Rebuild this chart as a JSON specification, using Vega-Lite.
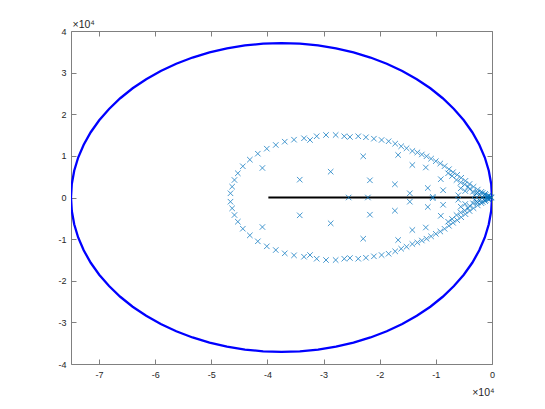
{
  "$schema": "https://vega.github.io/schema/vega-lite/v6.json",
  "width": 421,
  "height": 333,
  "autosize": {"type": "none"},
  "padding": {"left": 71, "top": 31, "right": 53, "bottom": 45},
  "background": "white",
  "config": {
    "view": {"stroke": null},
    "axis": {
      "labelFont": "Liberation Sans",
      "labelFontSize": 9,
      "labelColor": "#262626",
      "titleFont": "Liberation Sans",
      "titleColor": "#262626",
      "titleFontWeight": "normal",
      "titleFontSize": 10.5,
      "domainColor": "#808080",
      "tickColor": "#808080",
      "domainWidth": 1,
      "tickWidth": 1,
      "grid": false,
      "tickSize": -5
    }
  },
  "datasets": {
    "ellipse": [
      {"i":0,"x":0,"y":0},{"i":1,"x":-143,"y":3234},{"i":2,"x":-570,"y":6442},{"i":3,"x":-1278,"y":9602},{"i":4,"x":-2262,"y":12689},{"i":5,"x":-3513,"y":15679},{"i":6,"x":-5024,"y":18550},{"i":7,"x":-6782,"y":21280},{"i":8,"x":-8774,"y":23848},{"i":9,"x":-10983,"y":26234},{"i":10,"x":-13395,"y":28420},{"i":11,"x":-15991,"y":30391},{"i":12,"x":-18750,"y":32130},{"i":13,"x":-21652,"y":33624},{"i":14,"x":-24674,"y":34863},{"i":15,"x":-27794,"y":35836},{"i":16,"x":-30988,"y":36536},{"i":17,"x":-34232,"y":36959},{"i":18,"x":-37500,"y":37100},
      {"i":19,"x":-40768,"y":36959},{"i":20,"x":-44012,"y":36536},{"i":21,"x":-47206,"y":35836},{"i":22,"x":-50326,"y":34863},{"i":23,"x":-53348,"y":33624},{"i":24,"x":-56250,"y":32130},{"i":25,"x":-59010,"y":30391},{"i":26,"x":-61605,"y":28420},{"i":27,"x":-64017,"y":26234},{"i":28,"x":-66227,"y":23848},{"i":29,"x":-68218,"y":21280},{"i":30,"x":-69976,"y":18550},{"i":31,"x":-71487,"y":15679},{"i":32,"x":-72738,"y":12689},{"i":33,"x":-73722,"y":9602},{"i":34,"x":-74430,"y":6442},{"i":35,"x":-74857,"y":3234},{"i":36,"x":-75000,"y":0},
      {"i":37,"x":-74857,"y":-3234},{"i":38,"x":-74430,"y":-6442},{"i":39,"x":-73722,"y":-9602},{"i":40,"x":-72738,"y":-12689},{"i":41,"x":-71487,"y":-15679},{"i":42,"x":-69976,"y":-18550},{"i":43,"x":-68218,"y":-21280},{"i":44,"x":-66227,"y":-23848},{"i":45,"x":-64017,"y":-26234},{"i":46,"x":-61605,"y":-28420},{"i":47,"x":-59010,"y":-30391},{"i":48,"x":-56250,"y":-32130},{"i":49,"x":-53348,"y":-33624},{"i":50,"x":-50326,"y":-34863},{"i":51,"x":-47206,"y":-35836},{"i":52,"x":-44012,"y":-36536},{"i":53,"x":-40768,"y":-36959},{"i":54,"x":-37500,"y":-37100},
      {"i":55,"x":-34232,"y":-36959},{"i":56,"x":-30988,"y":-36536},{"i":57,"x":-27794,"y":-35836},{"i":58,"x":-24674,"y":-34863},{"i":59,"x":-21652,"y":-33624},{"i":60,"x":-18750,"y":-32130},{"i":61,"x":-15991,"y":-30391},{"i":62,"x":-13395,"y":-28420},{"i":63,"x":-10983,"y":-26234},{"i":64,"x":-8774,"y":-23848},{"i":65,"x":-6782,"y":-21280},{"i":66,"x":-5024,"y":-18550},{"i":67,"x":-3513,"y":-15679},{"i":68,"x":-2262,"y":-12689},{"i":69,"x":-1278,"y":-9602},{"i":70,"x":-570,"y":-6442},{"i":71,"x":-143,"y":-3234},{"i":72,"x":0,"y":0}
    ],
    "segment": [{"x1": -39840, "x2": 0, "y": 0}],
    "crosses": [
      {"x":-46590,"y":1010},{"x":-46290,"y":2600},{"x":-45880,"y":4210},{"x":-45280,"y":5820},{"x":-44390,"y":7500},{"x":-43140,"y":9090},{"x":-41720,"y":10530},{"x":-40120,"y":11730},{"x":-38520,"y":12620},{"x":-36920,"y":13410},{"x":-35270,"y":13890},{"x":-33490,"y":14230},{"x":-32420,"y":13820},{"x":-31230,"y":14710},{"x":-29570,"y":15020},{"x":-27850,"y":15020},{"x":-26320,"y":14710},{"x":-25310,"y":14540},{"x":-23830,"y":14710},{"x":-22460,"y":14470},{"x":-21040,"y":14130},{"x":-19670,"y":13820},{"x":-18420,"y":13510},{"x":-17250,"y":12930},{"x":-16180,"y":12310},{"x":-15220,"y":11830},{"x":-14190,"y":11180},{"x":-13300,"y":10820},{"x":-12500,"y":10340},{"x":-11670,"y":9900},{"x":-10850,"y":9330},{"x":-10010,"y":8730},{"x":-9210,"y":8170},{"x":-8450,"y":7520},{"x":-7670,"y":6800},{"x":-6940,"y":6080},{"x":-6190,"y":5460},{"x":-5480,"y":4740},{"x":-4730,"y":4010},{"x":-4000,"y":3250},{"x":-3290,"y":2570},{"x":-2540,"y":1900},{"x":-1890,"y":1370},{"x":-1210,"y":890},{"x":-640,"y":480},{"x":-230,"y":170},
      {"x":-46590,"y":-1010},{"x":-46290,"y":-2600},{"x":-45880,"y":-4210},{"x":-45280,"y":-5820},{"x":-44390,"y":-7500},{"x":-43140,"y":-9090},{"x":-41720,"y":-10530},{"x":-40120,"y":-11730},{"x":-38520,"y":-12620},{"x":-36920,"y":-13410},{"x":-35270,"y":-13890},{"x":-33490,"y":-14230},{"x":-32420,"y":-13820},{"x":-31230,"y":-14710},{"x":-29570,"y":-15020},{"x":-27850,"y":-15020},{"x":-26320,"y":-14710},{"x":-25310,"y":-14540},{"x":-23830,"y":-14710},{"x":-22460,"y":-14470},{"x":-21040,"y":-14130},{"x":-19670,"y":-13820},{"x":-18420,"y":-13510},{"x":-17250,"y":-12930},{"x":-16180,"y":-12310},{"x":-15220,"y":-11830},{"x":-14190,"y":-11180},{"x":-13300,"y":-10820},{"x":-12500,"y":-10340},{"x":-11670,"y":-9900},{"x":-10850,"y":-9330},{"x":-10010,"y":-8730},{"x":-9210,"y":-8170},{"x":-8450,"y":-7520},{"x":-7670,"y":-6800},{"x":-6940,"y":-6080},{"x":-6190,"y":-5460},{"x":-5480,"y":-4740},{"x":-4730,"y":-4010},{"x":-4000,"y":-3250},{"x":-3290,"y":-2570},{"x":-2540,"y":-1900},{"x":-1890,"y":-1370},{"x":-1210,"y":-890},{"x":-640,"y":-480},{"x":-230,"y":-170},
      {"x":-7820,"y":5820},{"x":-7110,"y":5170},{"x":-6330,"y":4210},{"x":-5570,"y":3610},{"x":-4860,"y":3130},{"x":-4270,"y":2600},{"x":-3970,"y":2040},{"x":-3380,"y":1390},{"x":-2770,"y":1010},{"x":-2540,"y":1200},{"x":-2190,"y":720},{"x":-1650,"y":1080},{"x":-1480,"y":480},{"x":-1120,"y":600},{"x":-850,"y":240},{"x":-590,"y":310},
      {"x":-7820,"y":-5820},{"x":-7110,"y":-5170},{"x":-6330,"y":-4210},{"x":-5570,"y":-3610},{"x":-4860,"y":-3130},{"x":-4270,"y":-2600},{"x":-3970,"y":-2040},{"x":-3380,"y":-1390},{"x":-2770,"y":-1010},{"x":-2540,"y":-1200},{"x":-2190,"y":-720},{"x":-1650,"y":-1080},{"x":-1480,"y":-480},{"x":-1120,"y":-600},{"x":-850,"y":-240},{"x":-590,"y":-310},
      {"x":-40900,"y":7090},{"x":-34250,"y":4280},{"x":-28740,"y":6200},{"x":-22940,"y":9900},{"x":-21750,"y":4130},{"x":-16720,"y":10220},{"x":-17300,"y":3170},{"x":-14190,"y":7810},{"x":-11790,"y":7210},{"x":-9120,"y":4400},{"x":-11440,"y":2280},{"x":-8710,"y":1750},{"x":-14640,"y":1010},{"x":-5570,"y":2210},{"x":-4770,"y":1560},{"x":-6010,"y":530},{"x":-3080,"y":530},{"x":-10550,"y":170},
      {"x":-40900,"y":-7090},{"x":-34250,"y":-4280},{"x":-28740,"y":-6200},{"x":-22940,"y":-9900},{"x":-21750,"y":-4130},{"x":-16720,"y":-10220},{"x":-17300,"y":-3170},{"x":-14190,"y":-7810},{"x":-11790,"y":-7210},{"x":-9120,"y":-4400},{"x":-11440,"y":-2280},{"x":-8710,"y":-1750},{"x":-14640,"y":-1010},{"x":-5570,"y":-2210},{"x":-4770,"y":-1560},{"x":-6010,"y":-530},{"x":-3080,"y":-530},{"x":-10550,"y":-170},
      {"x":-25540,"y":0},{"x":-22110,"y":0},{"x":-60,"y":0}
    ]
  },
  "resolve": {"axis": {"x": "independent", "y": "independent"}},
  "layer": [
    {
      "data": {"name": "ellipse"},
      "mark": {"type": "line", "stroke": "#0000FF", "strokeWidth": 2.3, "clip": true},
      "encoding": {
        "x": {
          "field": "x", "type": "quantitative",
          "scale": {"domain": [-75000, 0], "nice": false, "zero": false},
          "axis": {
            "orient": "bottom",
            "values": [-70000, -60000, -50000, -40000, -30000, -20000, -10000, 0],
            "labelExpr": "datum.value / 10000",
            "labelPadding": 11,
            "labelFlush": false,
            "title": "×10⁴",
            "titleAngle": 0,
            "titleX": 423,
            "titleY": 31,
            "titleAlign": "right",
            "titleBaseline": "alphabetic"
          }
        },
        "y": {
          "field": "y", "type": "quantitative",
          "scale": {"domain": [-40000, 40000], "nice": false, "zero": false},
          "axis": {
            "orient": "left",
            "values": [-40000, -30000, -20000, -10000, 0, 10000, 20000, 30000, 40000],
            "labelExpr": "datum.value / 10000",
            "labelPadding": 10,
            "labelFlush": false,
            "title": "×10⁴",
            "titleAngle": 0,
            "titleX": 1,
            "titleY": -4,
            "titleAlign": "left",
            "titleBaseline": "alphabetic"
          }
        },
        "order": {"field": "i", "type": "quantitative"}
      }
    },
    {
      "data": {"name": "segment"},
      "mark": {"type": "rule", "color": "#000000", "strokeWidth": 2},
      "encoding": {
        "x": {"field": "x1", "type": "quantitative", "axis": null},
        "x2": {"field": "x2"},
        "y": {"field": "y", "type": "quantitative", "axis": null}
      }
    },
    {
      "data": {"name": "crosses"},
      "mark": {
        "type": "point",
        "shape": "M-1,-1L1,1M-1,1L1,-1",
        "filled": false,
        "size": 30,
        "stroke": "#0072BD",
        "strokeWidth": 0.9,
        "opacity": 0.8
      },
      "encoding": {
        "x": {
          "field": "x", "type": "quantitative",
          "axis": {
            "orient": "top",
            "values": [-70000, -60000, -50000, -40000, -30000, -20000, -10000, 0],
            "labels": false,
            "title": null
          }
        },
        "y": {
          "field": "y", "type": "quantitative",
          "axis": {
            "orient": "right",
            "values": [-40000, -30000, -20000, -10000, 0, 10000, 20000, 30000, 40000],
            "labels": false,
            "title": null
          }
        }
      }
    }
  ]
}
